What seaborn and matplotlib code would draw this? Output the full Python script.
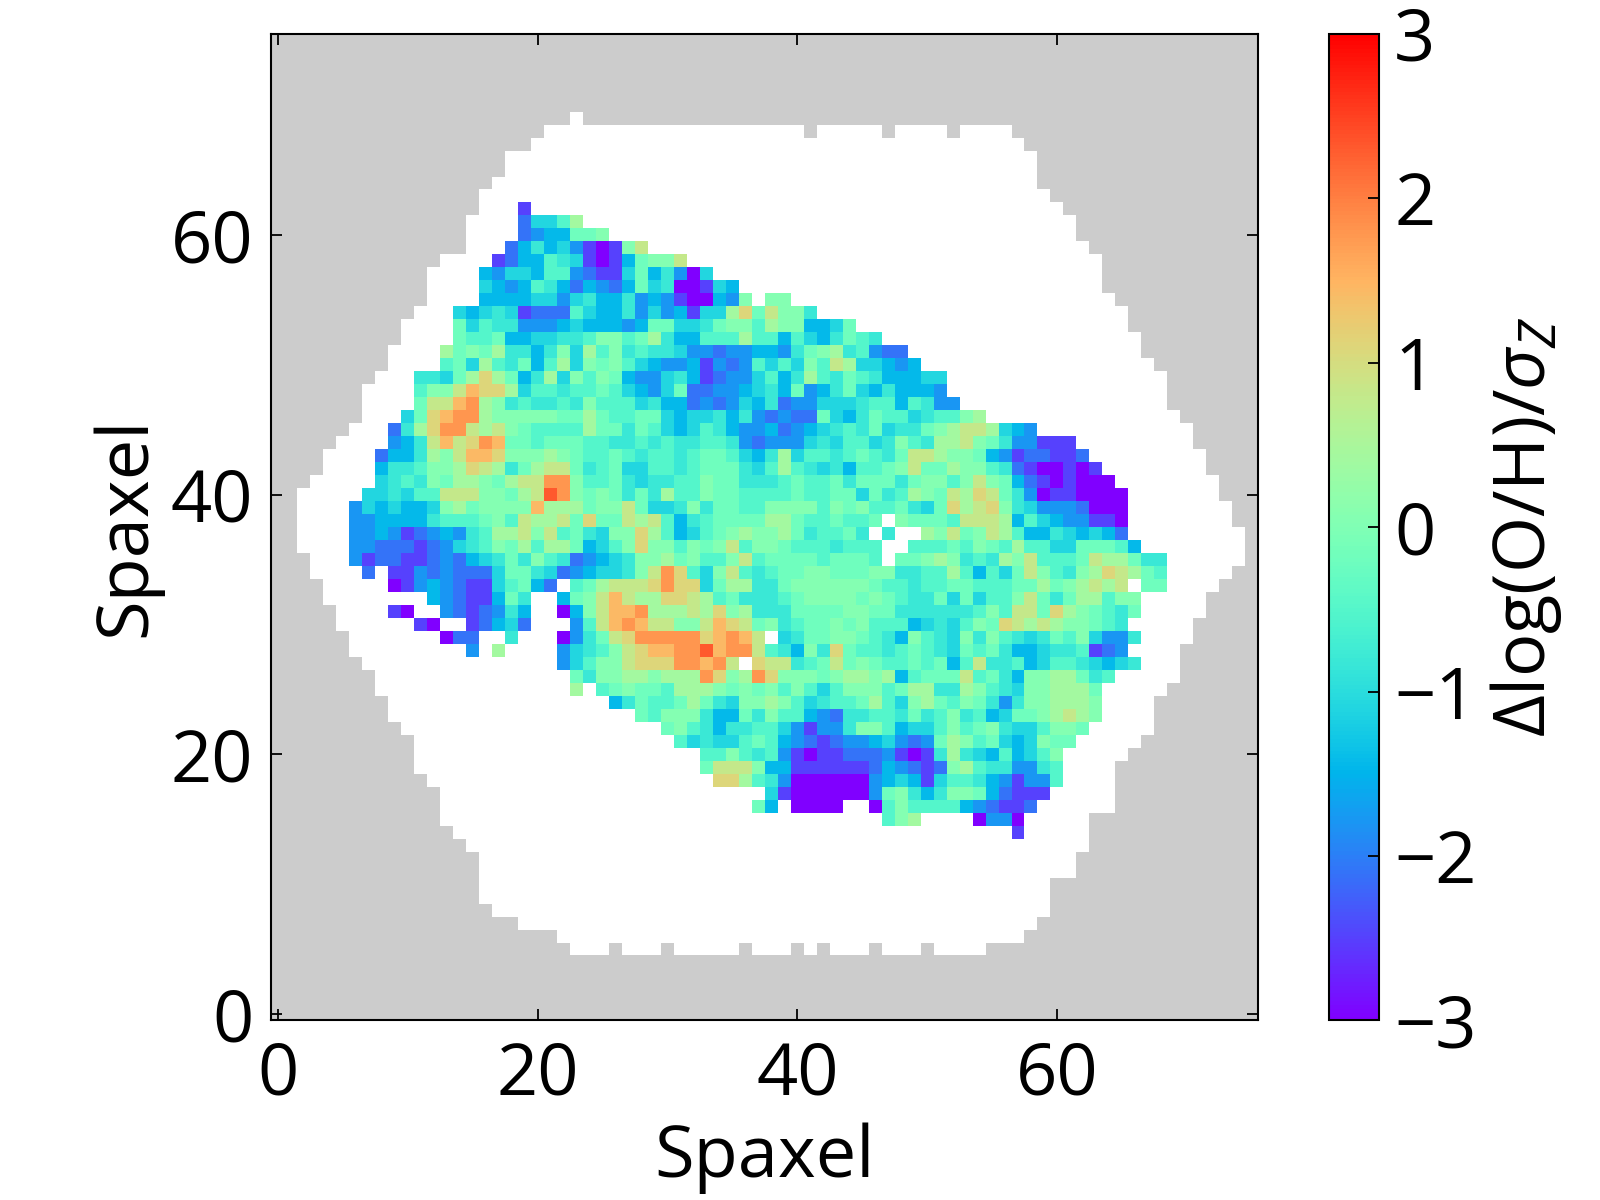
import numpy as np
import matplotlib
matplotlib.use("Agg")
import matplotlib.pyplot as plt
from matplotlib.colors import ListedColormap
import seaborn as sns

# Residual levels (in units of sigma_Z) used by the compact spaxel rows below.
LEVELS = {
    "P": -3.0, "V": -2.5, "B": -2.1, "b": -1.8, "C": -1.45, "c": -1.1,
    "T": -0.8, "t": -0.5, "g": -0.2, "G": 0.05, "l": 0.4, "y": 0.8,
    "Y": 1.1, "o": 1.45, "O": 1.8, "R": 2.3,
}

# Spaxels in four column bands: row -> (first column, one level code per spaxel).
# A dot is a spaxel with no measurement.
BAND_WEST = {
    62: (19, "V"), 61: (19, "Bcc"), 60: (19, "BbC"), 59: (18, "BCTC"),
    58: (17, "VBCCt"), 57: (16, "CbccCt"), 56: (16, "cCbCtT"), 55: (16, "CCCCcc"),
    54: (14, "cCcTcVBB"), 53: (14, "gctTTbbb"), 52: (14, "gttgCCcc"),
    51: (13, "lgGglTTCT"), 50: (13, "tgcltTgCt"), 49: (11, "TTcglYlgCTl"),
    48: (11, "tGGyoYYlctt"), 47: (11, "gyyoOlGTtTT"), 46: (10, "cgYoOOlGGGGG"),
    45: (9, "BTlYOOylyGgtt"), 44: (9, "bCTyoyYOoggtg"), 43: (8, "BCCTlGyooYGGGl"),
    42: (8, "CTTtGGlYylTgly"), 41: (8, "cTtTGgllGglyyO"), 40: (7, "ccTcttyyyGGglyR"),
    39: (6, "bcCcCCcGlgGGGGol"), 38: (6, "bbCCCCTtttgGtyll"), 37: (6, "bbCbVBbCbTtllyGy"),
    36: (6, "bbBBBVBbcTtGgltl"), 35: (6, "bVBBVVBbBCcTgTGt"), 34: (7, "B.VVbBbBBBcggTc"),
    33: (9, "PVbCbBVVctgCB"), 32: (12, "CbBVVCgT"), 31: (9, "VP..bBVBbTC"),
    30: (11, "VP..VBCcB"), 29: (13, "PBB..T"), 28: (15, "b.l"),
}
BAND_INNER = {
    61: (22, "tl"), 60: (22, "CggG"), 59: (22, "cbVPVGy"), 58: (22, "TcVPVCgGGy"),
    57: (22, "tbBVVcgCTbPc"), 56: (22, "CBCbBCgcTPPVcC"), 55: (22, "bcTCCTbCbVPPCbG"),
    54: (22, "BtcCCTbcbCVcclYg"), 53: (22, "CcCCCbCggccTgGGt"), 52: (22, "TTtGGtglTCCtttlt"),
    51: (22, "GcltGTtTTcbbBbbC"), 50: (22, "lcGgGtcCbbCVbBbt"), 49: (22, "cGtGgCbbcTCVBbbc"),
    48: (22, "TttgtcCbcgBBbbCc"), 47: (22, "tTGtttcTCCBbBbcC"), 46: (22, "gglgttggcCccTCTb"),
    45: (22, "ttlggTgtcCctTCbb"), 44: (22, "ggttTTtTtTTttTbB"), 43: (22, "GgttgtTttTtggtcC"),
    42: (22, "ygTtgccttTtgggTc"), 41: (22, "OGttgTcTTttGggTT"), 40: (22, "OGgGgTgTlttGggtt"),
    39: (22, "llgGGygccTGTggtt"), 38: (22, "ygYggylytCTtgggg"), 37: (22, "tgTcGGYltCctgGlG"),
    36: (22, "lgCctGYGGtGgGytG"), 35: (22, "TBbCcTGGlgGttGyt"), 34: (22, "BbCccTGyOYtcGytT"),
    33: (22, ".tglyyyYOYYcgllT"), 32: (22, "CgGyoyllYYyltgTT"), 31: (22, "PCGyooOlllylYGlT"),
    30: (22, ".btyoOoyyGGyoYyg"), 29: (22, "PbTgyYOOOOOYoOoy"), 28: (22, "bcTtGyYooOORoOOy"),
    27: (22, "bctGGyYYYOOoOy.Y"), 26: (23, "gTGGllGlllOYGlO"), 25: (23, "l.tgGggtlllGgGg"),
    24: (26, "CTgttglgTcGG"), 23: (28, "gtGGGTCCgT"), 22: (30, "gGtTCTTt"),
    21: (31, "tcTcctg"), 20: (33, "ttGtT"), 19: (33, "gyyyG"), 18: (34, "YYlt"), 16: (37, "g"),
}
BAND_CENTRE = {
    55: (38, "GG"), 54: (38, "yGGT"), 53: (38, "lGGCCcg"), 52: (38, "tCtcCTgtT"),
    51: (38, "CbTgGlTtbBB"), 50: (38, "ctcGtylccCbC"), 49: (38, "tCTltTgtTCCCcc"),
    48: (38, "TCgbCTgcCTCCCb"), 47: (38, "TBbbcccTttCtTbb"), 46: (38, "BbBBgcCTgttcTttG"),
    45: (38, "CBbCcTtTgcTTgGly"), 44: (38, "bbbcTcttcTGtTlly"), 43: (38, "TlcttTtgtTgyylGG"),
    42: (38, "tltTcTCttgGygglG"), 41: (38, "TtgttgTgggTgGGtG"),
    40: (38, "ttgttggcgTtlGgyl"), 39: (38, "GGGGtGgGttgTcgYl"), 38: (38, "llgttgttg.Ggggty"),
    37: (38, "GlgTttgT.T..lGyg"), 36: (38, "GgtttTttt..tttgt"), 35: (38, "ggggtgggt.ggGlGT"),
    34: (38, "tggGGgggGGTTttlt"), 33: (38, "TgGGGGGGgttTttgg"), 32: (38, "TtgGGGGgGgtTTgcg"),
    31: (38, "TTggggGGggTTTTTT"), 30: (38, "GTtggGgGtttCcTct"), 29: (38, ".cTggGGgtTCGtTcG"),
    28: (38, "tTCGTYgttTtgtTcg"), 27: (38, "yyTtgygGgttgtgCt"), 26: (38, "YGGGgGllGlCtgggy"),
    25: (38, "GtGtctGGGtgllTTl"), 24: (38, "lGtcTttgltcGlgtG"), 23: (38, "GttCbBTTttTgTtGT"),
    22: (38, "tcbVbbTGGtCcctGt"), 21: (38, "tCbBVBbbCcbBbglG"),
    20: (38, "tbVPVVBBBbVPVTlT"), 19: (38, "CCVVVVVVBCbBVBGl"), 18: (38, "TbPPPPPPbCcCVctt"),
    17: (38, "cVPPPPPPbgGTCTGG"), 16: (38, "C.PPPP..PtGttttC"), 15: (47, "tGl"),
}
BAND_EAST = {
    46: (54, "l"), 45: (54, "ylcCb"), 44: (54, "GgTbbVVV"), 43: (54, "gCbVBBVVB"),
    42: (54, "GtTBVPPVPV"), 41: (54, "yGgCBVPVPPP"), 40: (54, "YygTbPVVPPPP"),
    39: (54, "yYGTcbbbBPPP"), 38: (54, "yylCtcCbbVVP"), 37: (54, "GyltCCTcCcCB"),
    36: (54, "GgtlttccgggtC"), 35: (54, "tTlGytttgyllgTT"), 34: (54, "CtcgyGtTGlYylgt"),
    33: (54, "tttgglgGlyly.gg"), 32: (54, "cttGygTglltGG"), 31: (54, "tGtyygYlGgtTg"),
    30: (54, "GgYylylGGgtT"), 29: (54, "TGtTcTgtGcbbT"), 28: (54, "tgTCCcTTtVBb"),
    27: (54, "yTTtCcttTcCcT"), 26: (54, "tgTCGGllgTt"), 25: (54, "GtTcGGlllg"),
    24: (54, "gTbTGGlllG"), 23: (54, "tCcggGlylG"), 22: (54, "gGTcctGGg"),
    21: (54, "tgcCcGgg"), 20: (54, "cCtCctG"), 19: (54, "tTTbbTt"), 18: (54, "TCbVbbt"),
    17: (54, "gCBVVV"), 16: (54, "bBVVB"), 15: (54, "PbbP"), 14: (57, "V"),
}

# Extent of the fibre bundle per row: row -> (first column, last column).
IFU_SPAN = {
    69: (23, 23), 68: (21, 56), 67: (20, 57), 66: (18, 58), 65: (18, 58), 64: (17, 58),
    63: (16, 59), 62: (16, 60), 61: (15, 61), 60: (15, 61), 59: (15, 62), 58: (13, 63),
    57: (12, 63), 56: (12, 63), 55: (12, 64), 54: (11, 65), 53: (10, 65), 52: (10, 66),
    51: (9, 66), 50: (9, 67), 49: (8, 68), 48: (7, 68), 47: (7, 68), 46: (7, 69),
    45: (6, 70), 44: (5, 70), 43: (4, 71), 42: (4, 71), 41: (3, 72), 40: (2, 72),
    39: (2, 73), 38: (2, 73), 37: (2, 74), 36: (2, 74), 35: (3, 74), 34: (3, 73),
    33: (4, 72), 32: (4, 71), 31: (5, 71), 30: (5, 70), 29: (6, 70), 28: (6, 69),
    27: (7, 69), 26: (8, 69), 25: (8, 68), 24: (9, 67), 23: (9, 67), 22: (10, 67),
    21: (11, 66), 20: (11, 65), 19: (11, 64), 18: (12, 64), 17: (13, 64), 16: (13, 64),
    15: (13, 62), 14: (14, 62), 13: (15, 62), 12: (16, 61), 11: (16, 61), 10: (16, 59),
    9: (16, 59), 8: (17, 59), 7: (19, 58), 6: (22, 57), 5: (23, 54),
}
# Gaps along the top and bottom edges of the bundle: row -> columns.
IFU_GAPS = {68: [41, 47, 52], 5: [26, 30, 36, 40, 42, 46, 50]}

GRID_SIZE = 76
TICK_VALUES = [0, 20, 40, 60]
CBAR_TICKS = [-3, -2, -1, 0, 1, 2, 3]

residual = np.full((GRID_SIZE, GRID_SIZE), np.nan)
for band in (BAND_WEST, BAND_INNER, BAND_CENTRE, BAND_EAST):
    for row, (first, codes) in band.items():
        for offset, code in enumerate(codes):
            if code != ".":
                residual[row, first + offset] = LEVELS[code]

outside = np.ones((GRID_SIZE, GRID_SIZE))
for row, (first, last) in IFU_SPAN.items():
    outside[row, first:last + 1] = np.nan
for row, cols in IFU_GAPS.items():
    outside[row, cols] = 1.0

sns.set_theme(style="white")
plt.rcParams["font.family"] = ["Open Sans", "DejaVu Sans"]
plt.rcParams["mathtext.fontset"] = "custom"
plt.rcParams["mathtext.rm"] = "Open Sans"
plt.rcParams["mathtext.it"] = "Open Sans:italic"
plt.rcParams["mathtext.bf"] = "Open Sans:bold"
plt.rcParams["axes.unicode_minus"] = True

TICK_FONT = 52
LABEL_FONT = 52
fig = plt.figure(figsize=(16, 12), dpi=100, facecolor="white")
ax = fig.add_axes([271.4 / 1600, 1 - 1020.4 / 1200, 986.8 / 1600, 986.7 / 1200])
cax = fig.add_axes([1329 / 1600, 1 - 1020.4 / 1200, 50 / 1600, 986.7 / 1200])

sns.heatmap(outside, ax=ax, cmap=ListedColormap(["#cccccc"]), cbar=False, square=False,
            xticklabels=False, yticklabels=False)
sns.heatmap(residual, ax=ax, cmap="rainbow", vmin=-3, vmax=3, cbar_ax=cax, square=False,
            xticklabels=False, yticklabels=False,
            cbar_kws={"ticks": CBAR_TICKS})
ax.set_xlim(0, GRID_SIZE)
ax.set_ylim(0, GRID_SIZE)
ax.set_axisbelow(False)

# Cell centres sit half a unit in from the heatmap edges.
ax.set_xticks([v + 0.5 for v in TICK_VALUES], [str(v) for v in TICK_VALUES])
ax.set_yticks([v + 0.5 for v in TICK_VALUES], [str(v) for v in TICK_VALUES])
ax.tick_params(axis="x", direction="in", length=8, width=1.3, color="black", top=True,
               bottom=True, labelsize=TICK_FONT, labelcolor="black", pad=14)
ax.tick_params(axis="y", direction="in", length=8, width=1.3, color="black", left=True,
               right=True, labelsize=TICK_FONT, labelcolor="black", pad=13)
for spine in ax.spines.values():
    spine.set_visible(True)
    spine.set_color("black")
    spine.set_linewidth(1.5)
ax.set_xlabel("Spaxel", fontsize=LABEL_FONT, color="black", labelpad=8)
ax.set_ylabel("Spaxel", fontsize=LABEL_FONT, color="black", labelpad=6)

cbar = ax.collections[-1].colorbar
cbar.ax.set_axisbelow(False)
cbar.ax.tick_params(direction="in", length=8, width=1.3, color="black", labelsize=TICK_FONT,
                    labelcolor="black", pad=11, right=True)
cbar.outline.set_visible(True)
cbar.outline.set_edgecolor("black")
cbar.outline.set_linewidth(1.5)
cbar.set_label(r"$\Delta$log(O/H)/$\sigma_{Z}$", fontsize=52, color="black", labelpad=8, y=0.5)

fig.savefig("out.png", dpi=100, facecolor="white")
